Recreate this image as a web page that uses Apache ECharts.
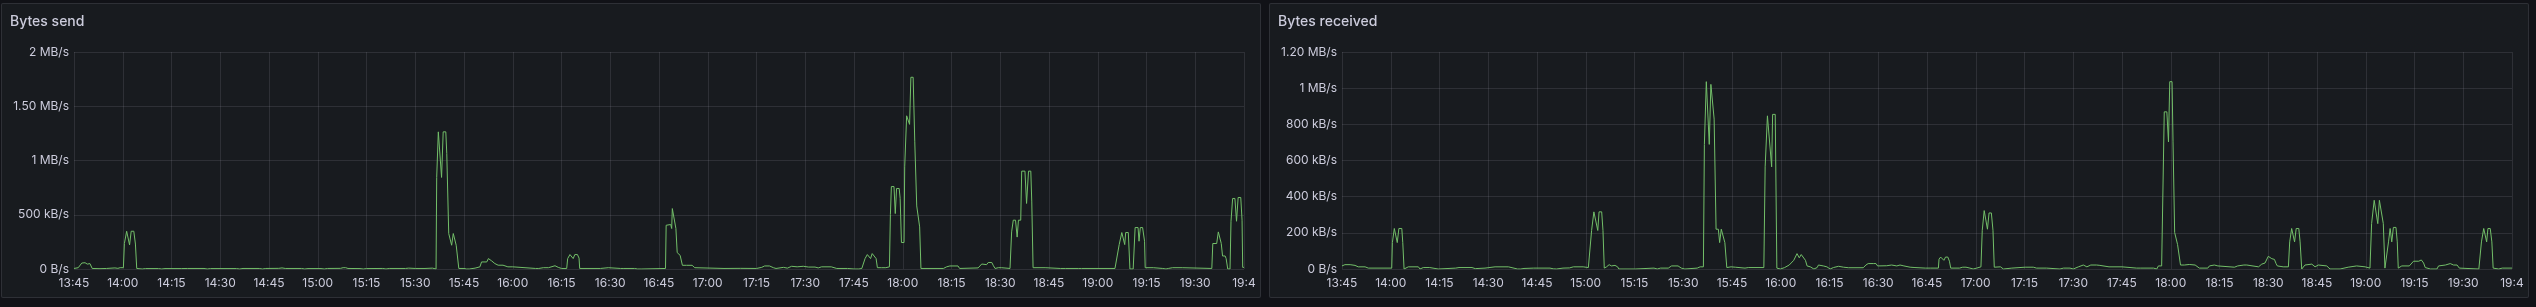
<!DOCTYPE html>
<html><head><meta charset="utf-8">
<script src="https://cdn.jsdelivr.net/npm/echarts@6/dist/echarts.min.js"></script>
<style>
html,body{margin:0;padding:0;background:#111217;width:2536px;height:307px;overflow:hidden;}
.panel{position:absolute;background:#181b1f;border:1px solid rgba(204,204,220,0.12);border-radius:2px;box-sizing:border-box;}
#c{position:absolute;left:0;top:0;width:2536px;height:307px;}
</style>
</head><body>
<div class="panel" style="left:1px;top:3px;width:1260px;height:295px;"></div>
<div class="panel" style="left:1269px;top:3px;width:1260px;height:295px;"></div>
<div id="c"></div>
<script>
const panelTitles = ['Bytes send', 'Bytes received'];
const xTickLabels = ['13:45','14:00','14:15','14:30','14:45','15:00','15:15','15:30','15:45','16:00','16:15','16:30','16:45','17:00','17:15','17:30','17:45','18:00','18:15','18:30','18:45','19:00','19:15','19:30','19:4'];
const sendYLabels = ['0 B/s','500 kB/s','1 MB/s','1.50 MB/s','2 MB/s'];
const recvYLabels = ['0 B/s','200 kB/s','400 kB/s','600 kB/s','800 kB/s','1 MB/s','1.20 MB/s'];

// minutes after 13:45, and kB/s
const sendMin = [0,1.3,2.4,3.4,4.1,4.9,5.6,8,10,12.6,13.5,14.2,15.2,
15.5,16.2,16.7,17.1,17.6,18.4,18.9,19.3,
21,22,26,27,28,33,35,40,41,42,50,51,52,57,58,59,63,64,65,70,71,72,76,77,78,82,82.8,83.6,84.3,88,89,90,95,96,97,102,103,105,108,110.3,110.6,111.4,
111.6,112.1,112.6,113.1,113.6,114.4,114.7,115.3,115.8,116.2,116.7,117.3,117.6,117.9,118.4,
120,120.8,121.6,121.8,123.4,124.9,125.4,127,127.5,128.5,129.5,130.5,132,133.5,135,135.4,
142,142.4,143,144.4,146,146.5,148,148.5,149,150,151.6,
151.9,152.6,153.1,153.6,154.1,154.9,155.4,155.6,
162,162.4,164.4,164.8,168.2,168.5,169.2,172.5,172.8,173.4,174.5,175,182,
182.2,183.6,183.9,184.1,184.7,185.2,185.6,186.5,187.2,188.5,189,190.2,191,191.6,
200,205,210,211.6,212.5,214,215.2,216,218.3,219.5,220.8,222.5,224.4,225,226,228,229,230,233,234.7,
238,240,241.5,242.4,
243.4,244.1,244.6,245.1,245.6,246.2,246.8,247.2,248.5,249,249.8,250.9,
251.2,251.5,252.3,252.7,253.1,253.9,254.2,254.6,255.4,255.6,256.2,256.6,257.1,257.5,258.2,258.7,259.3,259.8,260.2,260.6,
267.5,268.5,269.5,272,272.5,
278.2,279.3,279.8,280.8,281.3,282.4,282.9,283.4,284.4,285.4,285.9,288,
288.5,289,289.7,290.2,290.6,291.3,291.6,292.6,293.1,293.7,294.4,294.7,295.1,298.8,299.3,
303.5,304,305,309,309.3,310,320.3,320.8,
321.6,322.4,322.9,323.3,323.6,324.4,324.9,325.9,
326.5,327.4,327.7,328.1,328.8,329.4,329.6,332.1,332.6,335,335.2,336,336.7,338,341,341.5,350.1,
350.4,351.6,352.1,352.6,353,353.4,354.2,354.5,355,355.7,
356,356.5,357.2,357.7,358.2,359,359.4,359.6,360];
const sendKB = [5,12,55,58,45,50,5,3,5,10,6,12,12,
235,348,348,222,348,348,230,5,
0,4,4,0,4,4,5,5,0,4,4,0,5,5,0,5,6,10,5,5,0,4,4,0,5,6,12,12,5,4,0,4,5,0,5,5,8,5,5,8,0,0,
844,1264,1264,844,1264,1264,1065,327,327,219,327,327,219,219,5,
5,0,0,8,8,20,65,65,96,75,50,35,35,20,20,5,
5,10,5,12,12,30,30,22,15,5,5,
96,133,133,96,133,133,100,5,
5,12,12,5,5,0,5,5,8,0,0,5,5,
403,410,373,557,557,373,151,126,34,34,40,34,12,5,
5,6,5,15,28,28,12,5,15,8,25,20,25,10,18,18,10,20,20,5,
5,0,0,5,
96,133,133,96,142,142,96,12,12,5,12,20,
502,760,760,511,742,742,650,244,244,941,1412,1412,1333,1767,1767,1172,581,581,388,5,
5,20,28,28,5,
10,46,60,40,60,60,30,5,12,12,5,5,
342,450,450,294,450,450,902,902,604,902,902,618,12,12,5,
5,0,5,5,0,5,5,0,
225,336,336,225,336,336,0,0,
382,382,256,382,382,256,12,12,5,5,0,0,5,12,12,5,5,
235,235,342,342,235,120,120,96,0,0,
440,650,650,440,659,659,450,15,15];

const recvMin = [0,0.9,2.5,3,4,5,5.5,7.1,8.1,12,15.3,
15.5,16.1,16.6,17,17.5,18.4,18.7,19.1,19.6,20.4,23.5,24,25,27,27.6,29.6,30.2,35,36,40,41,44,47.1,51.2,51.6,54,55,56,59,64,65,66,68,70,71.2,74.2,74.5,75.8,
76.8,77.5,78.1,78.7,79.1,79.9,80.3,80.7,81.4,82.2,82.9,84,84.8,85.2,90.2,90.7,96,97,98,100.4,101.4,103.4,104.4,104.9,105.5,106,109.3,110.2,111.2,
111.5,112.1,112.6,113,113.5,114,114.5,115.1,115.8,116.2,116.7,117.3,117.8,118.4,119.7,121,124,124.5,125,128,129.8,
130.2,130.9,131.5,132.2,132.5,133.3,133.8,134.9,136.2,137.6,139,140,140.7,141.3,141.9,142.6,143.1,144.1,145.2,146.2,146.6,148.1,149.2,150.2,151.2,152.8,154.3,155.8,160.4,161.2,161.9,162.5,163.6,164.3,164.8,167.6,169.1,170.7,171.7,172.9,174.8,176.3,179.5,179.9,181,183.5,
183.7,184.2,184.8,185.2,185.7,186.4,186.9,187.3,190,191,192,193.2,194.2,195.3,196.6,
197,197.6,198.1,198.6,199.1,199.8,200.3,200.7,202.6,203.5,206.1,210.2,212.7,213.7,216.8,220.9,222,224,225,226.6,228.1,229.2,230.4,232.2,233.2,236,240,244.5,245,245.6,249.7,250.7,251.2,252.2,
253,253.8,254.3,254.7,255.4,255.7,256.2,256.8,257.1,257.6,258,259.2,259.7,260.7,262.5,263.8,266.4,266.9,268.4,269.5,274.6,275.6,277.5,278.4,278.9,282,283,284,285,286.1,286.9,287.4,287.8,289.6,291.2,
291.6,292.2,292.7,293.1,293.6,294.4,294.8,295.3,296.3,298.4,299.4,300.4,303,304,307.1,309.6,312.2,314.8,316.3,
316.8,317.6,318.1,318.7,319.2,319.8,320.4,320.9,321.4,322,322.5,323,323.5,324.3,324.7,325,326.1,328.4,329.7,331.3,332.1,332.8,333.3,334.9,336.9,337.4,339.5,341,342,343.1,343.8,349.8,
350.6,351.3,351.8,352.2,352.6,353.3,353.8,354.2,355.9,357,360];
const recvKB = [17,24,24,17,20,12,5,12,5,5,5,
146,224,224,146,224,224,146,0,0,12,12,0,8,8,0,0,5,5,8,8,2,5,12,12,5,0,0,3,5,5,1,0,5,6,12,12,8,8,
213,316,316,213,316,316,213,5,12,24,17,20,12,0,0,5,5,0,5,5,17,17,5,0,0,5,5,12,12,
689,1036,1036,689,1021,1021,829,220,220,146,220,220,146,8,12,10,5,0,8,8,8,
565,847,847,565,855,855,5,0,8,22,48,85,62,80,78,48,17,12,0,8,22,17,12,0,8,15,10,7,7,22,30,22,30,30,17,18,22,17,22,17,10,8,5,0,5,5,
54,66,66,48,66,66,43,5,5,10,10,5,0,5,12,
214,323,323,220,310,310,214,10,12,0,5,10,10,5,5,0,5,5,0,12,22,12,22,22,20,12,12,5,0,5,5,0,17,17,
869,869,703,1036,1036,703,202,202,135,135,22,22,12,25,22,5,5,17,22,17,10,17,22,22,12,12,27,33,70,57,53,30,17,12,12,
150,224,224,150,224,224,150,0,22,27,12,22,17,0,0,10,17,12,5,
251,380,380,251,380,380,251,5,5,150,224,150,230,230,150,5,17,17,43,43,50,33,8,0,0,17,22,30,22,22,5,0,
150,224,224,150,224,224,150,5,0,5,5];

const FONT = 'Inter, "Noto Sans", sans-serif';
const TXT = '#ccccdc';
const GRIDC = 'rgba(204,204,220,0.12)';

function pairs(xs, ys){ return xs.map((x,i)=>[x, ys[i]]); }

function xAxisFor(gi){
  return {
    type:'value', gridIndex:gi, min:0, max:360, interval:15,
    axisLine:{show:false}, axisTick:{show:false},
    splitLine:{show:true, lineStyle:{color:GRIDC, width:1}},
    axisLabel:{
      color:TXT, fontFamily:FONT, fontSize:12, margin:8,
      showMinLabel:true, showMaxLabel:true, hideOverlap:false,
      formatter:(v)=> xTickLabels[Math.round(v/15)]
    }
  };
}
function yAxisFor(gi, max, interval, labels){
  return {
    type:'value', gridIndex:gi, min:0, max:max, interval:interval,
    axisLine:{show:false}, axisTick:{show:false},
    splitLine:{show:true, lineStyle:{color:GRIDC, width:1}},
    axisLabel:{
      color:TXT, fontFamily:FONT, fontSize:12, margin:5,
      formatter:(v)=> labels[Math.round(v/interval)]
    }
  };
}

const chart = echarts.init(document.getElementById('c'), null, {renderer:'canvas'});
chart.setOption({
  backgroundColor:'transparent',
  animation:false,
  title:[
    {text:panelTitles[0], left:10, top:15, padding:0, textStyle:{color:TXT, fontFamily:FONT, fontSize:14, fontWeight:500}},
    {text:panelTitles[1], left:1278, top:15, padding:0, textStyle:{color:TXT, fontFamily:FONT, fontSize:14, fontWeight:500}}
  ],
  grid:[
    {left:74, top:52, width:1170, height:217, containLabel:false},
    {left:1342, top:52, width:1170, height:217, containLabel:false}
  ],
  xAxis:[xAxisFor(0), xAxisFor(1)],
  yAxis:[yAxisFor(0, 2000, 500, sendYLabels), yAxisFor(1, 1200, 200, recvYLabels)],
  series:[
    {type:'line', xAxisIndex:0, yAxisIndex:0, data:pairs(sendMin, sendKB), showSymbol:false, symbol:'none',
     lineStyle:{color:'#73BF69', width:1}, itemStyle:{color:'#73BF69'}},
    {type:'line', xAxisIndex:1, yAxisIndex:1, data:pairs(recvMin, recvKB), showSymbol:false, symbol:'none',
     lineStyle:{color:'#73BF69', width:1}, itemStyle:{color:'#73BF69'}}
  ]
});
</script>
</body></html>
